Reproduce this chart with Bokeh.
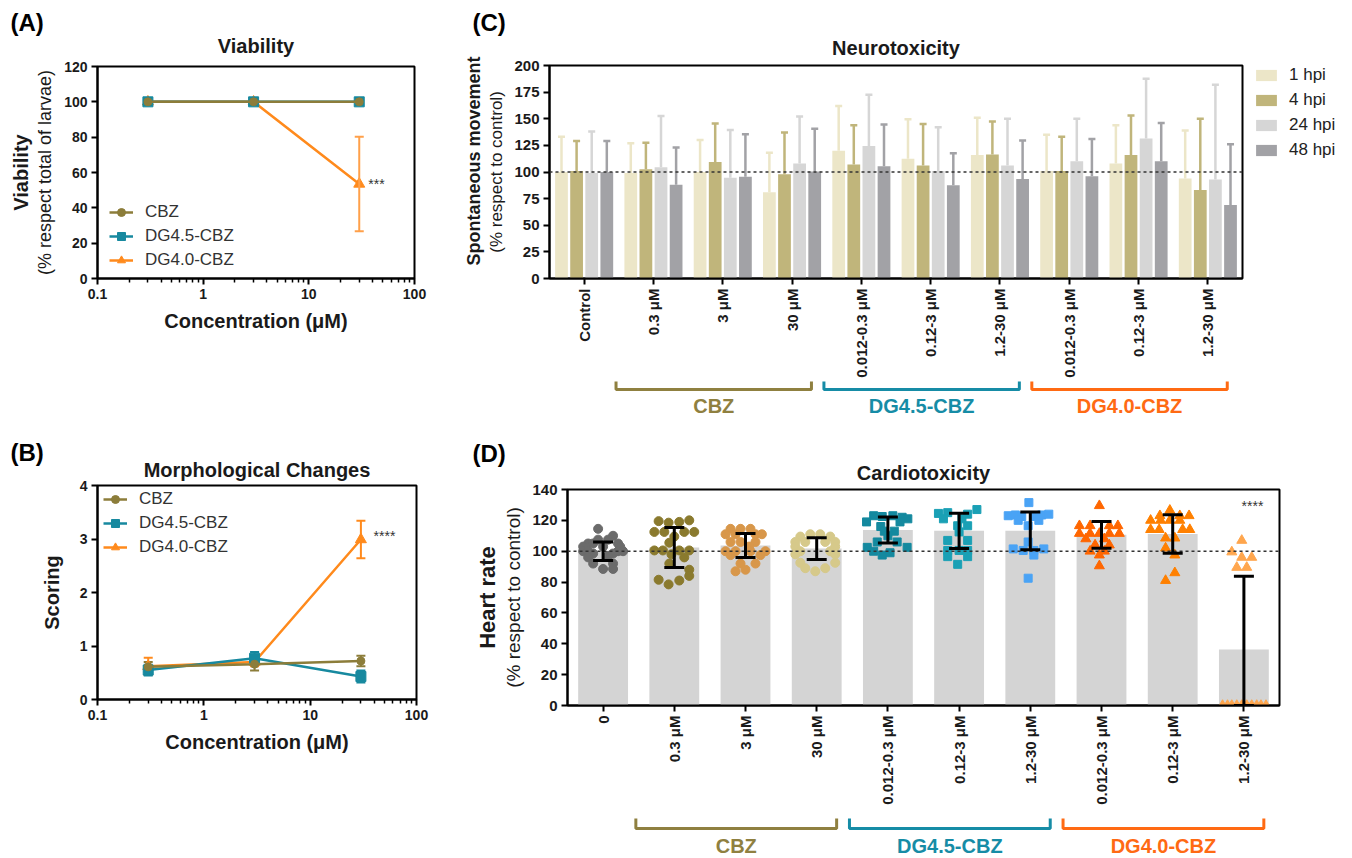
import math
from bokeh.plotting import figure
from bokeh.models import (ColumnDataSource, Whisker, TeeHead, Span, Label, Legend,
                          LegendItem, FixedTicker, NumeralTickFormatter, Title, Spacer)
from bokeh.layouts import row, column
from bokeh.embed import file_html
from bokeh.resources import INLINE
from bokeh.core.properties import value

FONT = "Liberation Sans"
INK = "#1a1a1a"

# ---------------- data ----------------
conc_um = [0.3, 3, 30]
series_names = ["CBZ", "DG4.5-CBZ", "DG4.0-CBZ"]

viab_cbz = [100, 100, 100]
viab_dg45 = [100, 100, 100]
viab_dg40 = [100, 100, 53.5]
viab_dg40_sd = [0, 0, 26.8]

morph_cbz = [0.61, 0.66, 0.72]
morph_cbz_sd = [0.09, 0.12, 0.10]
morph_dg45 = [0.55, 0.77, 0.43]
morph_dg45_sd = [0.10, 0.12, 0.11]
morph_dg40 = [0.62, 0.70, 2.99]
morph_dg40_sd = [0.16, 0.08, 0.35]

neuro_cats = ["Control", "0.3 μM", "3 μM", "30 μM", "0.012-0.3 μM", "0.12-3 μM",
              "1.2-30 μM", "0.012-0.3 μM", "0.12-3 μM", "1.2-30 μM"]
hpi_labels = ["1 hpi", "4 hpi", "24 hpi", "48 hpi"]
mov_1hpi = [100, 99, 100, 81, 120, 112.5, 116, 101, 108, 94]
mov_1hpi_sd = [33, 28, 30, 37, 42, 37, 35, 34, 36, 45]
mov_4hpi = [101, 102.5, 109.5, 98, 107, 106, 116.5, 101, 116, 83]
mov_4hpi_sd = [28, 25, 36, 39, 37, 39, 31, 32, 37, 67]
mov_24hpi = [99, 104.5, 94.5, 108, 124.5, 101, 106, 110, 131.5, 93]
mov_24hpi_sd = [39, 48, 45, 44, 48, 41, 44, 40, 56, 89]
mov_48hpi = [100, 88, 95.5, 100.5, 105.5, 87.5, 93.5, 96, 110, 69]
mov_48hpi_sd = [29, 35, 40, 40, 39, 30, 36, 35, 36, 57]

cardio_cats = ["0", "0.3 μM", "3 μM", "30 μM", "0.012-0.3 μM", "0.12-3 μM",
               "1.2-30 μM", "0.012-0.3 μM", "0.12-3 μM", "1.2-30 μM"]
hr_mean = [100, 102.4, 103.7, 101.7, 113.8, 113.2, 113.2, 110.6, 111.2, 36.3]
hr_sd = [6, 13, 7.8, 7, 8.4, 11.4, 12.2, 8.6, 12.5, 47.5]

hr_ctrl = [114.5, 110, 107.5, 107.5, 105, 105, 105, 103, 103, 103, 100, 100, 100, 100,
           98.5, 98.5, 97, 96, 92, 92, 88.5, 88.5]
hr_ctrl_jit = [-0.07, 0.14, 0.07, -0.07, -0.21, 0.21, -0.14, -0.28, 0.24, 0.0, -0.28, -0.21,
               0.21, 0.28, -0.14, 0.14, 0.07, -0.21, -0.14, 0.14, 0.0, 0.14]
hr_cbz_03 = [119.5, 118.5, 119, 120, 112.5, 112.5, 112.5, 112.5, 109.5, 105.5, 100.5, 100.5,
             100.5, 100.5, 98, 96, 92, 88, 84, 81.5, 81, 78.5]
hr_cbz_03_jit = [-0.22, -0.08, 0.07, 0.21, -0.28, -0.14, 0.14, 0.28, 0.0, -0.07, -0.28, -0.16,
                 0.07, 0.21, -0.04, 0.14, -0.07, 0.21, 0.21, -0.22, 0.07, -0.08]
hr_cbz_3 = [114.5, 114.5, 114.5, 111, 111, 111, 111, 106, 106, 106, 103, 100, 100, 100, 100,
            97.5, 97.5, 92, 92, 88, 87]
hr_cbz_3_jit = [-0.21, -0.07, 0.07, -0.28, -0.14, 0.14, 0.23, -0.21, -0.07, 0.14, 0.05, -0.28,
                -0.14, 0.07, 0.28, -0.21, 0.21, -0.07, 0.14, 0.0, -0.14]
hr_cbz_30 = [111, 111, 109.5, 109.5, 106, 106, 106, 106, 103, 103, 100, 100, 98, 98, 92.5,
             92.5, 89, 89, 87]
hr_cbz_30_jit = [-0.09, 0.05, -0.23, 0.19, -0.30, -0.16, 0.12, 0.26, -0.30, 0.26, -0.23, 0.19,
                 -0.30, 0.26, -0.23, 0.26, -0.16, 0.12, -0.02]
hr_dg45_a = [123, 122.5, 123, 122, 121, 119, 119, 116, 113, 113, 110, 106, 106, 102.5, 102.5,
             100, 99, 97.5]
hr_dg45_a_jit = [-0.20, -0.08, 0.07, 0.20, 0.28, -0.30, 0.17, -0.10, -0.05, 0.09, 0.0, -0.15,
                 0.13, -0.29, 0.27, -0.20, 0.03, -0.08]
hr_dg45_b = [124.5, 125, 124, 127, 121, 121, 116.5, 116.5, 112.5, 107, 107, 100.5, 100.5,
             100.5, 96.5, 96.5, 91.5]
hr_dg45_b_jit = [-0.29, -0.16, 0.12, 0.25, -0.22, 0.04, -0.02, 0.12, 0.0, -0.16, 0.12, -0.16,
                 0.0, 0.12, -0.16, 0.12, -0.02]
hr_dg45_c = [131.5, 123, 123.5, 122.5, 122.5, 123.5, 124, 120, 120, 116.5, 106, 101.5, 101.5,
             100.5, 100.5, 97.5, 82.5]
hr_dg45_c_jit = [-0.02, -0.31, -0.21, -0.12, 0.07, 0.16, 0.26, -0.17, 0.12, -0.03, -0.03,
                 -0.24, 0.19, -0.10, 0.05, 0.05, -0.03]
hr_dg40_a = [129.5, 116.5, 116.5, 116.5, 116.5, 111.5, 111.5, 111.5, 111.5, 111.5, 108, 108,
             104, 104, 100, 100, 97.5, 90.5]
hr_dg40_a_jit = [-0.03, -0.31, -0.16, 0.11, 0.23, -0.31, -0.16, -0.03, 0.11, 0.25, -0.22, 0.04,
                 -0.09, 0.11, -0.16, 0.04, -0.03, -0.03]
hr_dg40_b = [126.5, 123, 123, 123, 120, 120, 120, 120, 114, 114, 114, 114, 108.5, 108.5, 102,
             97.5, 86, 81]
hr_dg40_b_jit = [-0.04, -0.18, 0.10, 0.23, -0.31, -0.17, -0.04, 0.10, -0.31, -0.19, 0.14, 0.24,
                 -0.10, 0.03, -0.10, 0.03, 0.03, -0.10]
hr_dg40_c = [107, 99.5, 96, 96, 89.5, 89.5, 0, 0, 0, 0, 0, 0, 0, 0, 0, 0]
hr_dg40_c_jit = [-0.03, -0.17, -0.03, 0.11, -0.10, 0.04, -0.30, -0.23, -0.17, -0.10, -0.03,
                 0.04, 0.11, 0.18, 0.24, 0.31]

bracket_names = ["CBZ", "DG4.5-CBZ", "DG4.0-CBZ"]
bracket_first = [1, 4, 7]
bracket_last = [3, 6, 9]

# ---------------- colours ----------------
C_CBZ = "#8c7d3a"
C_DG45 = "#17899f"
C_DG40 = "#ff8a1c"
HPI_COLORS = ["#ece6c8", "#c0b57b", "#d6d6d6", "#a2a2a6"]
BRACKET_COLORS = ["#8f8040", "#168ca6", "#ff6a13"]
PT_COLORS = ["#6b6b6b", "#8a7a2e", "#d8974a", "#d6c98a", "#14899f", "#1aa0b5",
             "#4aa3f5", "#ff6600", "#ff8000", "#ffa64d"]
PT_MARKERS = ["circle"] * 4 + ["square"] * 3 + ["triangle"] * 3


def base_fig(fw, fh, left, right, top, bottom, **kw):
    p = figure(frame_width=fw, frame_height=fh, min_border_left=left,
               min_border_right=right, min_border_top=top, min_border_bottom=bottom,
               output_backend="svg", toolbar_location=None, title=None, **kw)
    p.grid.visible = False
    p.outline_line_color = "black"
    p.outline_line_width = 2
    p.outline_line_alpha = 1
    p.background_fill_color = "white"
    p.border_fill_color = "white"
    return p


def main_title(p, text, standoff):
    p.add_layout(Title(text=text, text_font=FONT, text_font_size="20px",
                       text_font_style="bold", text_color=INK, align="center",
                       standoff=standoff), "above")


def letter(p, text, dx, standoff):
    p.add_layout(Title(text=text, text_font=FONT, text_font_size="24px",
                       text_font_style="bold", text_color="black", align="left",
                       offset=dx, standoff=standoff), "above")


def style_axes(p, tick_px=14):
    for ax in p.axis:
        ax.axis_line_color = "black"
        ax.axis_line_width = 2
        ax.major_tick_line_color = "black"
        ax.major_tick_line_width = 2
        ax.major_tick_out = 6
        ax.major_tick_in = 0
        ax.minor_tick_line_color = "black"
        ax.minor_tick_line_width = 1.5
        ax.minor_tick_out = 4
        ax.minor_tick_in = 0
        ax.major_label_text_font = FONT
        ax.major_label_text_font_size = f"{tick_px}px"
        ax.major_label_text_font_style = "bold"
        ax.major_label_text_color = INK
        ax.major_label_standoff = 4
        ax.axis_label_text_font = FONT
        ax.axis_label_text_color = INK


def left_title(p, text, size, align="center", offset=0):
    p.add_layout(Title(text=text, text_font=FONT, text_font_size=size,
                       text_font_style="bold", text_color=INK, align=align,
                       offset=offset, standoff=2), "left")


def log_x(p):
    minor = [m * d for d in (0.1, 1, 10) for m in range(2, 10)]
    p.xaxis.ticker = FixedTicker(ticks=[0.1, 1, 10, 100], minor_ticks=minor)
    p.xaxis.formatter = NumeralTickFormatter(format="0.[0]")
    p.xaxis.axis_label = "Concentration (μM)"
    p.xaxis.axis_label_text_font_size = "20px"
    p.xaxis.axis_label_text_font_style = "bold"
    p.xaxis.axis_label_standoff = 8


def whisker(p, base, lo, hi, color, width, cap, lower=True, level="annotation"):
    src = ColumnDataSource(dict(base=base, lower=lo, upper=hi))
    w = Whisker(source=src, base="base", lower="lower", upper="upper",
                line_color=color, line_width=width, level=level,
                upper_head=TeeHead(size=cap, line_color=color, line_width=width),
                lower_head=TeeHead(size=cap, line_color=color, line_width=width) if lower else None)
    p.add_layout(w)


# ---------------- Panel A ----------------
pA = base_fig(317, 212, 97, 44, 66, 92, x_axis_type="log",
              x_range=(0.1, 100), y_range=(0, 120))
main_title(pA, "Viability", 20)
letter(pA, "(A)", -87, -26)
style_axes(pA, 14)
log_x(pA)
pA.yaxis.ticker = FixedTicker(ticks=list(range(0, 121, 20)))
pA.yaxis.minor_tick_line_color = None
pA.yaxis.axis_label = "(% respect total of larvae)"
pA.yaxis.axis_label_text_font_size = "18px"
pA.yaxis.axis_label_text_font_style = "normal"
pA.yaxis.axis_label_standoff = 6
left_title(pA, "Viability", "20px")

lA3 = pA.line(conc_um, viab_dg40, line_color=C_DG40, line_width=2.5)
sA3 = pA.scatter(conc_um, viab_dg40, marker="triangle", size=11, color=C_DG40)
lA2 = pA.line(conc_um, viab_dg45, line_color=C_DG45, line_width=2.5)
sA2 = pA.scatter(conc_um, viab_dg45, marker="square", size=10, color=C_DG45)
lA1 = pA.line(conc_um, viab_cbz, line_color=C_CBZ, line_width=2.5)
sA1 = pA.scatter(conc_um, viab_cbz, marker="circle", size=8, color=C_CBZ)
whisker(pA, [c for c, s in zip(conc_um, viab_dg40_sd) if s > 0],
        [v - s for v, s in zip(viab_dg40, viab_dg40_sd) if s > 0],
        [v + s for v, s in zip(viab_dg40, viab_dg40_sd) if s > 0], "#ffa04a", 2, 9)
pA.add_layout(Label(x=36.5, y=viab_dg40[2], text="***", text_font=FONT, text_font_size="14px",
                    text_color="#333333", text_baseline="middle"))
legA = Legend(items=[LegendItem(label=series_names[0], renderers=[lA1, sA1]),
                     LegendItem(label=series_names[1], renderers=[lA2, sA2]),
                     LegendItem(label=series_names[2], renderers=[lA3, sA3])],
              location=(12, 8), padding=0, margin=0, spacing=4, glyph_width=24,
              glyph_height=20, label_height=20, label_standoff=12,
              label_text_font=FONT, label_text_font_size="17px", label_text_color="#333333",
              background_fill_alpha=0, border_line_alpha=0)
pA.add_layout(legA)

# ---------------- Panel B ----------------
pB = base_fig(319, 214, 97, 44, 115, 151, x_axis_type="log",
              x_range=(0.1, 100), y_range=(0, 4))
main_title(pB, "Morphological Changes", 9)
letter(pB, "(B)", -87, -26)
style_axes(pB, 14)
log_x(pB)
pB.yaxis.ticker = FixedTicker(ticks=[0, 1, 2, 3, 4])
pB.yaxis.minor_tick_line_color = None
pB.yaxis.axis_label = "Scoring"
pB.yaxis.axis_label_text_font_size = "20px"
pB.yaxis.axis_label_text_font_style = "bold"
pB.yaxis.axis_label_standoff = 14

rendB = {}
for name, vals, sds, col, mk, sz in [
        (series_names[2], morph_dg40, morph_dg40_sd, C_DG40, "triangle", 11),
        (series_names[1], morph_dg45, morph_dg45_sd, C_DG45, "square", 10),
        (series_names[0], morph_cbz, morph_cbz_sd, C_CBZ, "circle", 8)]:
    whisker(pB, conc_um, [v - s for v, s in zip(vals, sds)],
            [v + s for v, s in zip(vals, sds)], col, 2, 9, level="underlay")
    l = pB.line(conc_um, vals, line_color=col, line_width=2.5)
    s = pB.scatter(conc_um, vals, marker=mk, size=sz, color=col)
    rendB[name] = [l, s]
pB.add_layout(Label(x=39.5, y=3.05, text="****", text_font=FONT, text_font_size="14px",
                    text_color="#333333", text_baseline="middle"))
legB = Legend(items=[LegendItem(label=n, renderers=rendB[n]) for n in series_names],
              location=(6, 142), padding=0, margin=0, spacing=4, glyph_width=24,
              glyph_height=20, label_height=20, label_standoff=12,
              label_text_font=FONT, label_text_font_size="17px", label_text_color="#333333",
              background_fill_alpha=0, border_line_alpha=0)
pB.add_layout(legB)

# ---------------- Panel C ----------------
pC = base_fig(693, 213, 89, 104, 65, 100,
              x_range=(-0.5, len(neuro_cats) - 0.5), y_range=(0, 200))
main_title(pC, "Neurotoxicity", 14)
letter(pC, "(C)", -77, -17)
style_axes(pC, 15)
pC.yaxis.ticker = FixedTicker(ticks=list(range(0, 201, 25)))
pC.yaxis.minor_tick_line_color = None
pC.yaxis.axis_label = "(% respect to control)"
pC.yaxis.axis_label_text_font_size = "17px"
pC.yaxis.axis_label_text_font_style = "normal"
pC.yaxis.axis_label_standoff = 5
left_title(pC, "Spontaneous movement", "18px", align="left", offset=13)
pC.xaxis.ticker = FixedTicker(ticks=list(range(len(neuro_cats))))
pC.xaxis.major_label_overrides = {i: c for i, c in enumerate(neuro_cats)}
pC.xaxis.major_label_orientation = math.pi / 2
pC.xaxis.minor_tick_line_color = None

itemsC = []
step = 0.218
for k, (lab, vals, sds) in enumerate(zip(hpi_labels, [mov_1hpi, mov_4hpi, mov_24hpi, mov_48hpi],
                                        [mov_1hpi_sd, mov_4hpi_sd, mov_24hpi_sd, mov_48hpi_sd])):
    off = (k - 1.5) * step
    xs = [i + off for i in range(len(vals))]
    col = HPI_COLORS[k]
    whisker(pC, xs, vals, [v + s for v, s in zip(vals, sds)], col, 2.5, 7, lower=False)
    r = pC.vbar(x=xs, top=vals, width=0.184, fill_color=col, line_color=None)
    itemsC.append(LegendItem(label=lab, renderers=[r]))
pC.add_layout(Span(location=100, dimension="width", line_color="#333333", line_width=1.5,
                   line_dash="3 3"))
legC = Legend(items=itemsC, location=(11, 118), padding=0, margin=0, spacing=5,
              glyph_width=26, glyph_height=14, label_height=20, label_standoff=10,
              label_text_font=FONT, label_text_font_size="17px", label_text_color="#222222",
              background_fill_alpha=0, border_line_alpha=0)
pC.add_layout(legC, "right")


def bracket_fig(x_range, fw, left, right, height, y_top, y_base, y_text):
    b = figure(frame_width=fw, frame_height=height,
               x_range=x_range, y_range=(0, height), output_backend="svg",
               toolbar_location=None, title=None, x_axis_location=None,
               y_axis_location=None, min_border_left=left, min_border_right=right,
               min_border_top=0, min_border_bottom=0)
    b.grid.visible = False
    b.outline_line_color = None
    b.background_fill_color = "white"
    b.border_fill_color = "white"
    xs, ys, tx = [], [], []
    for f, l in zip(bracket_first, bracket_last):
        x0, x1 = f - 0.54, l + 0.28
        xs.append([x0, x0, x1, x1])
        ys.append([y_top, y_base, y_base, y_top])
        tx.append((x0 + x1) / 2)
    b.multi_line(xs=xs, ys=ys, line_color=BRACKET_COLORS, line_width=3)
    src = ColumnDataSource(dict(x=tx, y=[y_text] * len(tx), t=bracket_names, c=BRACKET_COLORS))
    b.text(x="x", y="y", text="t", text_color="c", source=src, text_font=value(FONT),
           text_font_size="20px", text_font_style="bold", text_align="center",
           text_baseline="middle")
    return b


pCb = bracket_fig(pC.x_range, 693, 89, 104, 40, 39, 31, 15)

# ---------------- Panel D ----------------
pD = base_fig(712, 216, 100, 67, 69, 109,
              x_range=(-0.5, len(cardio_cats) - 0.5), y_range=(0, 140))
main_title(pD, "Cardiotoxicity", 12)
letter(pD, "(D)", -95, -26)
style_axes(pD, 15)
pD.yaxis.ticker = FixedTicker(ticks=list(range(0, 141, 20)))
pD.yaxis.minor_tick_line_color = None
pD.yaxis.axis_label = "(% respect to control)"
pD.yaxis.axis_label_text_font_size = "19px"
pD.yaxis.axis_label_text_font_style = "normal"
pD.yaxis.axis_label_standoff = 5
left_title(pD, "Heart rate", "22px")
pD.xaxis.ticker = FixedTicker(ticks=list(range(len(cardio_cats))))
pD.xaxis.major_label_overrides = {i: c for i, c in enumerate(cardio_cats)}
pD.xaxis.major_label_orientation = math.pi / 2
pD.xaxis.minor_tick_line_color = None

xD = list(range(len(cardio_cats)))
pD.vbar(x=xD, top=hr_mean, width=0.70, fill_color="#d4d4d4", line_color=None)
groups = [(hr_ctrl, hr_ctrl_jit), (hr_cbz_03, hr_cbz_03_jit), (hr_cbz_3, hr_cbz_3_jit),
          (hr_cbz_30, hr_cbz_30_jit), (hr_dg45_a, hr_dg45_a_jit), (hr_dg45_b, hr_dg45_b_jit),
          (hr_dg45_c, hr_dg45_c_jit), (hr_dg40_a, hr_dg40_a_jit), (hr_dg40_b, hr_dg40_b_jit),
          (hr_dg40_c, hr_dg40_c_jit)]
for g, (vals, jit) in enumerate(groups):
    mk = PT_MARKERS[g]
    sz = {"circle": 9, "square": 8, "triangle": 10}[mk]
    pD.scatter(x=[g + j for j in jit], y=vals, marker=mk, size=sz, color=PT_COLORS[g])
pD.add_layout(Span(location=100, dimension="width", line_color="#333333", line_width=1.5,
                   line_dash="3 3"))
whisker(pD, xD, [max(0, m - s) for m, s in zip(hr_mean, hr_sd)],
        [m + s for m, s in zip(hr_mean, hr_sd)], "black", 3, 20, level="overlay")
pD.add_layout(Label(x=9.12, y=129.5, text="****", text_font=FONT, text_font_size="14px",
                    text_color="#333333", text_baseline="middle", text_align="center"))

pDb = bracket_fig(pD.x_range, 712, 100, 67, 44, 40, 30, 13)

right_col = column(pC, pCb,
                   row(Spacer(width=7, height=394), pD),
                   row(Spacer(width=7, height=44), pDb))
layout = row(column(pA, pB), right_col)
open("out.html", "w").write(file_html(layout, INLINE))
